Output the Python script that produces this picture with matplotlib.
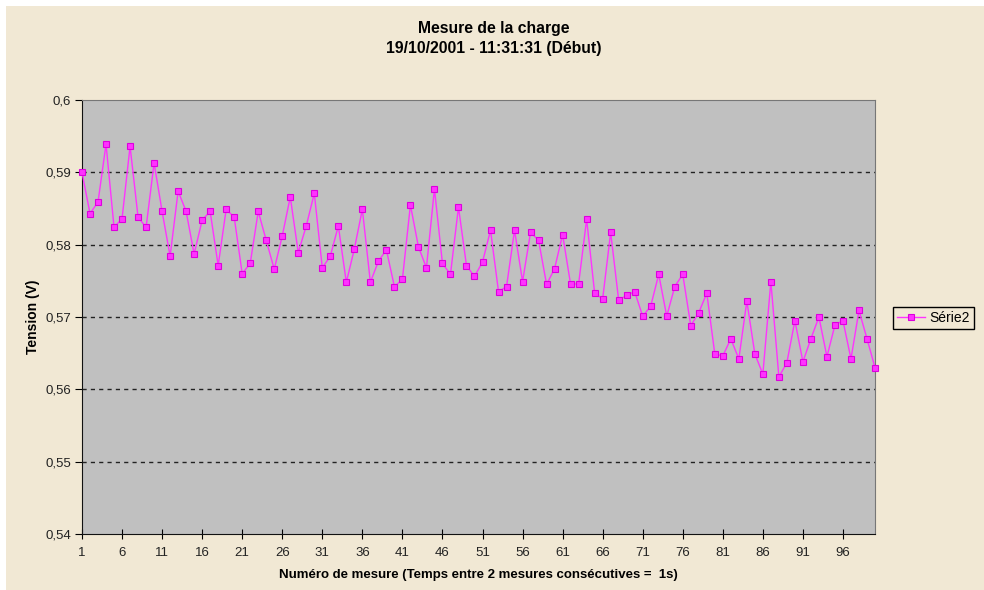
import numpy as np
import matplotlib
matplotlib.use("Agg")
import matplotlib.pyplot as plt
from matplotlib.patches import Rectangle
from matplotlib.ticker import FuncFormatter

plt.rcParams['font.family'] = ['Liberation Sans', 'DejaVu Sans']

# Numéro de mesure 1..100 et tension lue (V)
mesures = np.arange(1, 101)
tension = [
    0.5900, 0.5843, 0.5859, 0.5939, 0.5824, 0.5836, 0.5936, 0.5838, 0.5824, 0.5913,
    0.5846, 0.5784, 0.5874, 0.5846, 0.5787, 0.5834, 0.5846, 0.5771, 0.5849, 0.5838,
    0.5760, 0.5774, 0.5846, 0.5806, 0.5766, 0.5812, 0.5866, 0.5789, 0.5826, 0.5871,
    0.5768, 0.5784, 0.5826, 0.5748, 0.5794, 0.5849, 0.5748, 0.5777, 0.5793, 0.5742,
    0.5752, 0.5855, 0.5797, 0.5768, 0.5877, 0.5774, 0.5759, 0.5852, 0.5771, 0.5756,
    0.5776, 0.5820, 0.5735, 0.5742, 0.5820, 0.5749, 0.5817, 0.5806, 0.5745, 0.5767,
    0.5814, 0.5745, 0.5746, 0.5835, 0.5733, 0.5725, 0.5817, 0.5723, 0.5730, 0.5735,
    0.5701, 0.5715, 0.5759, 0.5701, 0.5742, 0.5759, 0.5688, 0.5706, 0.5733, 0.5649,
    0.5646, 0.5670, 0.5642, 0.5722, 0.5649, 0.5621, 0.5749, 0.5617, 0.5637, 0.5695,
    0.5638, 0.5670, 0.5700, 0.5645, 0.5689, 0.5695, 0.5642, 0.5709, 0.5670, 0.5630,
]
xticks = list(range(1, 100, 5))
yticks = [0.54, 0.55, 0.56, 0.57, 0.58, 0.59, 0.60]

fond = '#f1e8d4'
fig = plt.figure(figsize=(9.84, 5.9), dpi=100, facecolor='white')
fig.patches.append(Rectangle((6 / 984, 0), 1, 1 - 6 / 590, transform=fig.transFigure,
                             facecolor=fond, edgecolor='none', zorder=-10))

ax = fig.add_axes([82 / 984, 56 / 590, 793 / 984, 434 / 590])
ax.set_facecolor('#c0c0c0')
ax.plot(mesures, tension, color='#ff33ff', lw=1, marker='s', ms=4.5,
        mfc='#ff33ff', mec='#dd00dd', mew=0.8, label='Série2', clip_on=False, zorder=3)

ax.set_xlim(1, 100)
ax.set_ylim(0.54, 0.60)
ax.set_xticks(xticks)
ax.set_yticks(yticks)
ax.yaxis.set_major_formatter(FuncFormatter(lambda v, p: ('%g' % round(v, 2)).replace('.', ',')))
for y in yticks[1:-1]:
    ax.axhline(y, color='#222222', lw=1, ls=(0, (3, 3)), zorder=1)

ax.tick_params(axis='x', direction='inout', length=7, width=0.8, labelsize=9.5, pad=6,
               labelcolor='#222222')
for t in ax.get_xticklabels():
    t.set_family(['Liberation Sans Narrow', 'Liberation Sans'])
ax.tick_params(axis='y', direction='out', length=5, width=0.8, labelsize=9.5, pad=3,
               labelcolor='#222222')
for s in ['left', 'bottom']:
    ax.spines[s].set_color('#111111')
for s in ['top', 'right']:
    ax.spines[s].set_color('#777777')

ax.set_xlabel('Numéro de mesure (Temps entre 2 mesures consécutives =  1s)',
              fontsize=9.5, fontweight='bold', labelpad=7)
ax.set_ylabel('Tension (V)', fontsize=10, fontweight='bold', labelpad=4)

fig.text(494 / 984, 1 - 28 / 590, 'Mesure de la charge', ha='center', va='center',
         fontsize=11.3, fontweight='bold')
fig.text(494 / 984, 1 - 48 / 590, '19/10/2001 - 11:31:31 (Début)', ha='center', va='center',
         fontsize=11.3, fontweight='bold')

leg = fig.legend(loc='center left', bbox_to_anchor=(893 / 984, 1 - 318 / 590), fontsize=10,
                 fancybox=False, framealpha=1, facecolor=fond, edgecolor='black',
                 handlelength=2.0, borderpad=0.3, handletextpad=0.3, borderaxespad=0)
leg.get_frame().set_linewidth(1)

plt.savefig('out.png', dpi=100, facecolor=fig.get_facecolor())
plt.close()
